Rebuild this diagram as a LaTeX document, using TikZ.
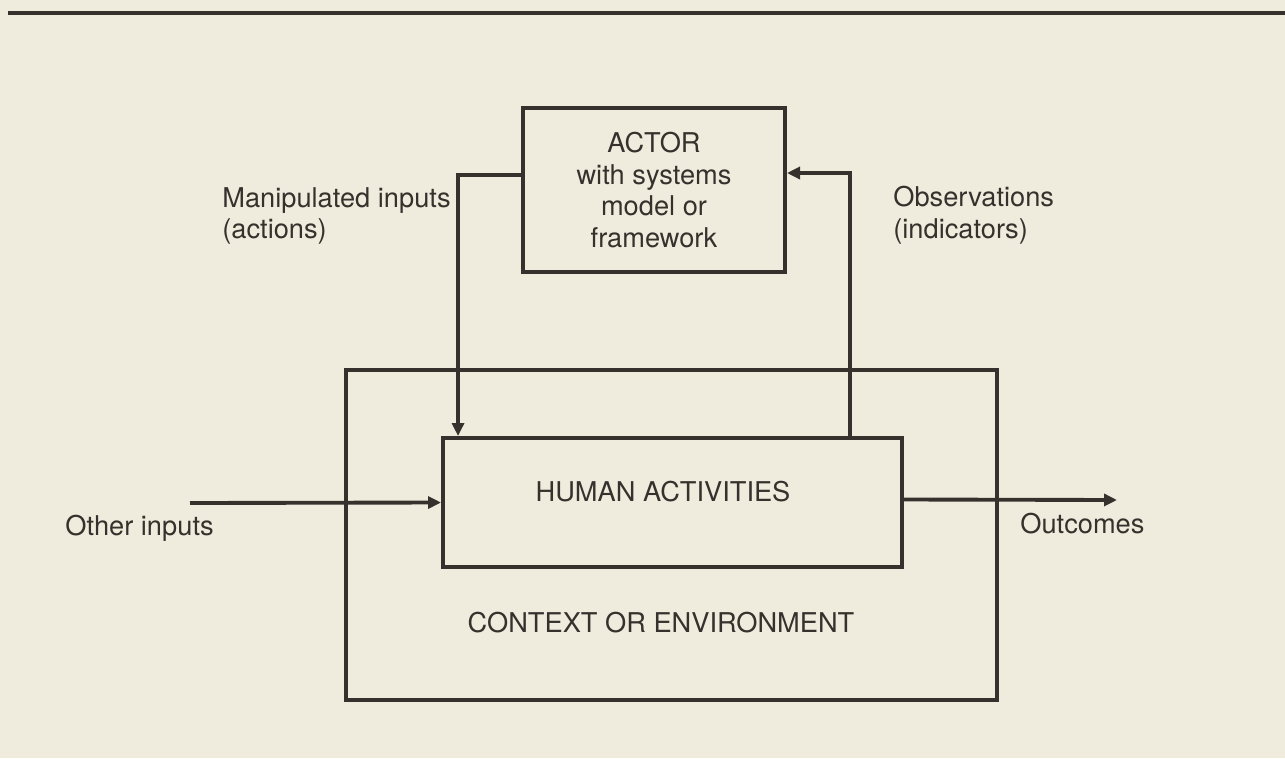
\documentclass[tikz,border=0pt]{standalone}
\usepackage{xcolor}
\usepackage{fontspec}
\setmainfont{TeX Gyre Heros}
\usepackage{tikz}
\usetikzlibrary{positioning, arrows.meta, calc}

\definecolor{paper}{HTML}{F0ECDD}
\definecolor{ink}{HTML}{36312D}

\tikzset{
	box/.style={draw=ink, line width=2.3pt, align=center, text=ink},
	flow/.style={draw=ink, line width=2.2pt, -{Triangle[length=0.26cm,width=0.24cm]}},
	lbl/.style={text=ink, align=left, inner sep=0pt}
}

\begin{document}
\begin{tikzpicture}[x=0.02cm, y=-0.02cm, font=\fontsize{15.5}{18}\selectfont]
		\useasboundingbox[fill=paper] (0,0) rectangle (1285,758);
		\draw[ink, line width=2.6pt] (8,13) -- (1285,13);

		% boxes
		\node [box, minimum width=13.02cm, minimum height=6.6cm] (ctx) at (671.5,535) {};
		\node [text=ink] (ctxlbl) at (661,623) {CONTEXT OR ENVIRONMENT};
		\node [box, minimum width=9.18cm, minimum height=2.58cm] (act) at (672.5,502.5) {};
		\node [text=ink] (actlbl) at (663,492) {HUMAN ACTIVITIES};
		\node [box, minimum width=5.24cm, minimum height=3.28cm] (actor) at (654,190) {ACTOR\\with systems\\model or\\framework};

		% labels
		\node [lbl, anchor=west] (manip) at (222,216) {Manipulated inputs\\(actions)};
		\node [lbl, anchor=west] (obs) at (893,215) {Observations\\(indicators)};
		\node [lbl, anchor=west] (other) at (65,528) {Other inputs};
		\node [lbl, anchor=west] (outc) at (1020,524) {Outcomes};

		\coordinate (oin) at (190,503);
		\coordinate (oout) at (1117,500);

		% arrows
		\draw[flow] ([yshift=0.3cm]actor.west) -| ([xshift=0.34cm]act.north west);
		\draw[flow] ([xshift=-1.08cm]act.north east) |- ([yshift=0.34cm]actor.east);
		\draw[flow] (oin) -- (act.west);
		\draw[flow] ([yshift=0.06cm]act.east) -- (oout);
\end{tikzpicture}
\end{document}
